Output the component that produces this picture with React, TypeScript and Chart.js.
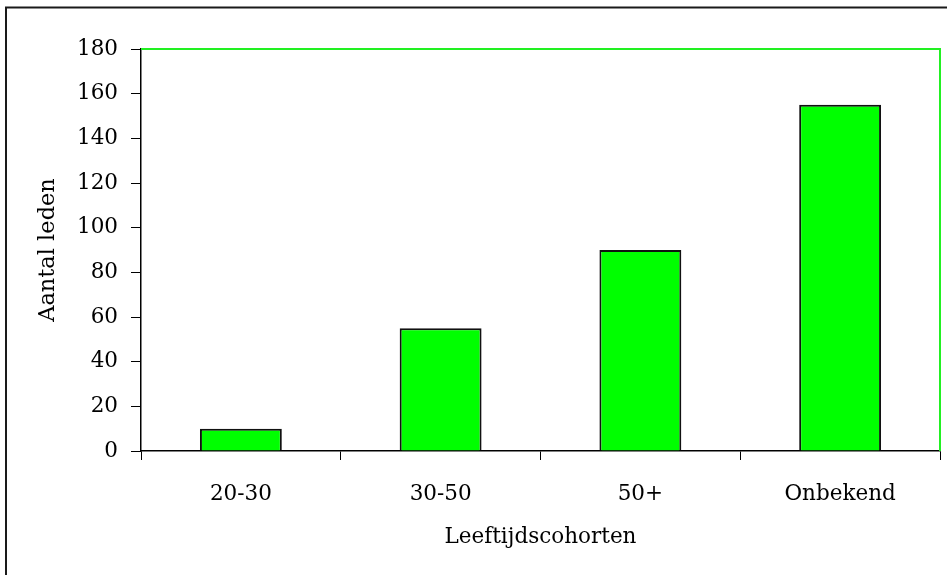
import React, { useEffect, useRef } from "react";
import { Chart, registerables } from "chart.js";

Chart.register(...registerables);

const categories = ["20-30", "30-50", "50+", "Onbekend"];
const memberCounts = [10, 55, 90, 155];
const yTickMin = 0;
const yTickMax = 180;
const yTickStep = 20;
const xTitle = "Leeftijdscohorten";
const yTitle = "Aantal leden";

const FONT = "'DejaVu Serif', serif";
const FONT_SIZE = 21.5;

const framePlugin = {
  id: "frame",
  beforeDraw(chart: any) {
    const ctx = chart.ctx;
    ctx.save();
    ctx.fillStyle = "#ffffff";
    ctx.fillRect(0, 0, chart.width, chart.height);
    ctx.strokeStyle = "#1a1a1a";
    ctx.lineWidth = 2;
    ctx.strokeRect(6, 7.5, 2000, 2000);
    ctx.restore();
  },
  afterDatasetsDraw(chart: any) {
    const { ctx, chartArea } = chart;
    ctx.save();
    ctx.strokeStyle = "#22f022";
    ctx.lineWidth = 2;
    ctx.beginPath();
    ctx.moveTo(chartArea.left, chartArea.top);
    ctx.lineTo(chartArea.right, chartArea.top);
    ctx.lineTo(chartArea.right, chartArea.bottom);
    ctx.stroke();
    ctx.restore();
  },
};

export default function App() {
  const ref = useRef<HTMLCanvasElement>(null);
  useEffect(() => {
    if (!ref.current) return;
    const chart = new Chart(ref.current, {
      type: "bar",
      data: {
        labels: categories,
        datasets: [
          {
            data: memberCounts,
            backgroundColor: "#00ff00",
            borderColor: "#111111",
            borderWidth: 2,
            barPercentage: 0.41,
            categoryPercentage: 1,
          },
        ],
      },
      options: {
        animation: false,
        responsive: false,
        devicePixelRatio: 1,
        layout: { padding: { left: 0, top: 49, right: 7, bottom: 0 } },
        plugins: { legend: { display: false }, tooltip: { enabled: false } },
        scales: {
          x: {
            grid: {
              drawOnChartArea: false,
              drawTicks: true,
              tickLength: 9,
              color: "#000000",
              offset: true,
            },
            border: { color: "#000000", width: 1.5 },
            ticks: {
              color: "#000000",
              padding: 22,
              font: { family: FONT, size: FONT_SIZE },
              maxRotation: 0,
            },
            title: {
              display: true,
              text: xTitle,
              color: "#000000",
              font: { family: FONT, size: FONT_SIZE },
              padding: { top: 0, bottom: 25 },
            },
            afterFit(scale: any) {
              scale.height = 124;
            },
          },
          y: {
            min: yTickMin,
            max: yTickMax,
            grid: {
              drawOnChartArea: false,
              drawTicks: true,
              tickLength: 10,
              color: "#000000",
            },
            border: { color: "#000000", width: 1.5 },
            ticks: {
              stepSize: yTickStep,
              color: "#000000",
              padding: 13,
              font: { family: FONT, size: FONT_SIZE },
            },
            title: {
              display: true,
              text: yTitle,
              color: "#000000",
              font: { family: FONT, size: 22.5 },
              padding: { top: 35, bottom: 0 },
            },
            afterFit(scale: any) {
              scale.width = 141;
            },
          },
        },
      },
      plugins: [framePlugin],
    });
    return () => chart.destroy();
  }, []);
  return (
    <div style={{ position: "fixed", left: 0, top: 0, width: 947, height: 575 }}>
      <canvas ref={ref} width={947} height={575} style={{ display: "block" }} />
    </div>
  );
}
